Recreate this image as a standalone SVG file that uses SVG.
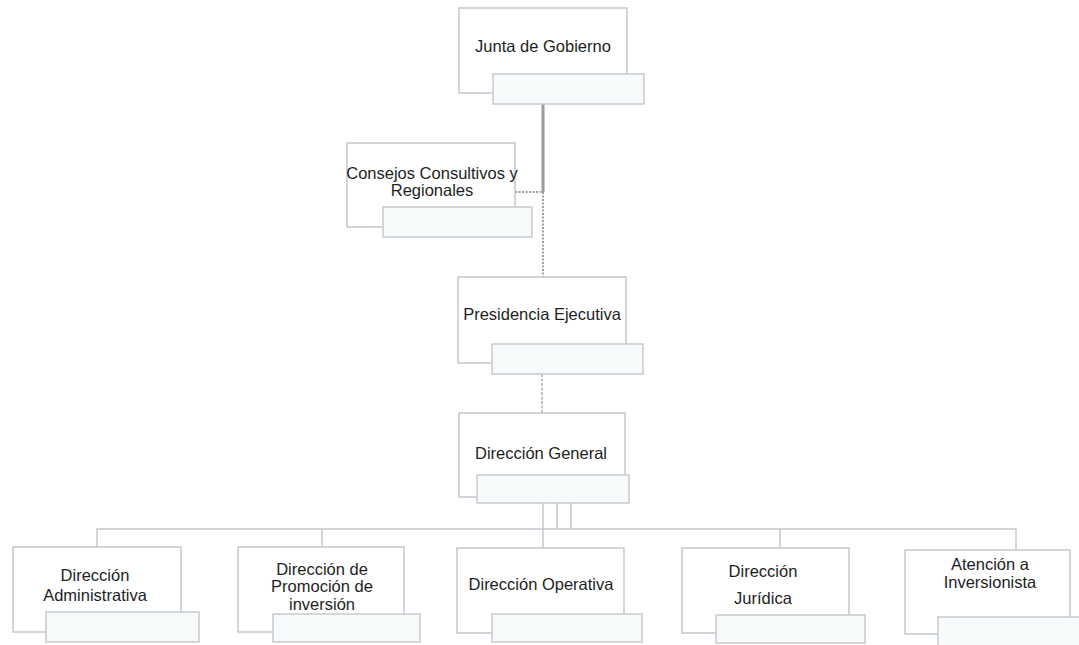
<svg xmlns="http://www.w3.org/2000/svg" width="1079" height="645" viewBox="0 0 1079 645">
<style>
.box{fill:#ffffff;stroke:#c3c7ce;stroke-width:1.5}
.sub{fill:#f6fafa;stroke:#c6cad1;stroke-width:1.5}
.lbl{font-family:"Liberation Sans",Arial,sans-serif;font-size:16.5px;fill:#1e1e1e;text-anchor:middle}
.ln{fill:none;stroke:#c3c7ce;stroke-width:1.5}
.thick{fill:none;stroke:#979ba3;stroke-width:3}
.dot{fill:none;stroke:#7d8189;stroke-width:1.5;stroke-dasharray:2 1.5}
.dotl{fill:none;stroke:#a9adb5;stroke-width:1.5;stroke-dasharray:3 1.5}
</style>
<rect width="1079" height="645" fill="#ffffff"/>
<g id="connectors">
<path class="thick" d="M543 104 V192"/>
<path class="dot" d="M543 192 V277"/>
<path class="dot" d="M515 192 H543"/>
<path class="dotl" d="M542 374 V413"/>
<path class="ln" d="M543 503 V548 M557 503 V529 M571 503 V529"/>
<path class="ln" d="M97 547 V529 H1016 V550"/>
<path class="ln" d="M322 529 V547"/>
<path class="ln" d="M780 529 V548"/>
</g>
<g id="junta">
<rect class="box" x="459" y="8" width="168" height="85"/>
<rect class="sub" x="493" y="74" width="151" height="30"/>
<text class="lbl" x="543" y="52">Junta de Gobierno</text>
</g>
<g id="consejos">
<rect class="box" x="347" y="143" width="168" height="84"/>
<rect class="sub" x="383" y="207" width="149" height="30"/>
<text class="lbl" x="432" y="179">Consejos Consultivos y</text>
<text class="lbl" x="432" y="196">Regionales</text>
</g>
<g id="presidencia">
<rect class="box" x="458" y="277" width="168" height="86"/>
<rect class="sub" x="492" y="344" width="151" height="30"/>
<text class="lbl" x="542" y="320">Presidencia Ejecutiva</text>
</g>
<g id="direccion-general">
<rect class="box" x="459" y="413" width="166" height="84"/>
<rect class="sub" x="477" y="475" width="152" height="28"/>
<text class="lbl" x="541" y="459">Dirección General</text>
</g>
<g id="direccion-administrativa">
<rect class="box" x="13" y="547" width="168" height="85"/>
<rect class="sub" x="46" y="612" width="153" height="30"/>
<text class="lbl" x="95" y="581">Dirección</text>
<text class="lbl" x="95" y="601">Administrativa</text>
</g>
<g id="direccion-promocion">
<rect class="box" x="238" y="547" width="166" height="85"/>
<rect class="sub" x="273" y="614" width="147" height="28"/>
<text class="lbl" x="322" y="575">Dirección de</text>
<text class="lbl" x="322" y="592">Promoción de</text>
<text class="lbl" x="322" y="610">inversión</text>
</g>
<g id="direccion-operativa">
<rect class="box" x="457" y="548" width="167" height="85"/>
<rect class="sub" x="492" y="614" width="150" height="28"/>
<text class="lbl" x="541" y="590">Dirección Operativa</text>
</g>
<g id="direccion-juridica">
<rect class="box" x="682" y="548" width="167" height="85"/>
<rect class="sub" x="716" y="615" width="149" height="28"/>
<text class="lbl" x="763" y="577">Dirección</text>
<text class="lbl" x="763" y="604">Jurídica</text>
</g>
<g id="atencion-inversionista">
<rect class="box" x="905" y="550" width="165" height="84"/>
<rect class="sub" x="938" y="617" width="147" height="30"/>
<text class="lbl" x="990" y="570">Atención a</text>
<text class="lbl" x="990" y="588">Inversionista</text>
</g>
</svg>
